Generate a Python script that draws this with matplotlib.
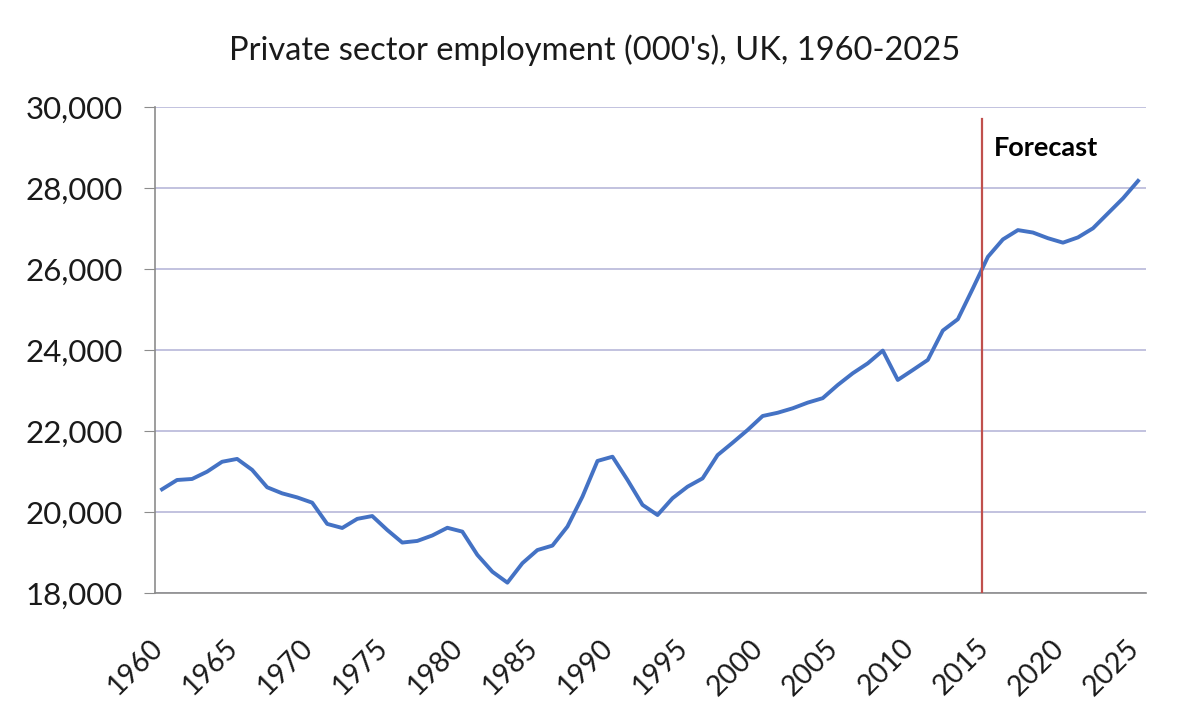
import matplotlib
matplotlib.use("Agg")
import matplotlib.pyplot as plt
from matplotlib.ticker import FuncFormatter
from matplotlib.transforms import ScaledTranslation

years = list(range(1960, 2026))
employment = [
    20560, 20790, 20815, 20995, 21240, 21310, 21040, 20610, 20460, 20360,
    20230, 19705, 19605, 19830, 19900, 19555, 19245, 19285, 19420, 19610,
    19515, 18940, 18525, 18255, 18735, 19060, 19170, 19640, 20380, 21260,
    21365, 20790, 20175, 19925, 20340, 20625, 20830, 21405, 21710, 22025,
    22370, 22450, 22560, 22700, 22810, 23135, 23425, 23670, 23985, 23260,
    23505, 23755, 24480, 24760, 25520, 26300, 26730, 26960, 26900, 26760,
    26650, 26780, 27005, 27375, 27745, 28175,
]
tick_years = list(range(1960, 2026, 5))
forecast_start = 2014.6
title = "Private sector employment (000's), UK, 1960-2025"

plt.rcParams['font.family'] = ['Lato', 'DejaVu Sans']

fig = plt.figure(figsize=(11.85, 7.02), dpi=100)
ax = fig.add_axes([0.1304, 0.1553, 0.8363, 0.6923])

ax.plot(years, employment, color='#4472C4', lw=2.8, solid_joinstyle='round', zorder=3)
ax.plot([forecast_start, forecast_start], [29700, 18000], color='#C0504D', lw=1.6, zorder=4)
ax.text(2015.4, 28990, "Forecast", fontsize=19.5, fontweight='bold', va='center', ha='left')

ax.set_xlim(1959.5, 2025.5)
ax.set_ylim(18000, 30000)
ax.set_yticks(range(18000, 30001, 2000))
ax.yaxis.set_major_formatter(FuncFormatter(lambda v, p: f"{int(v):,}"))
ax.set_xticks(tick_years)
ax.set_xticklabels([str(y) for y in tick_years])

ax.grid(axis='y', color='#BDBDDC', lw=1.3, zorder=0)
for s in ['top', 'right']:
    ax.spines[s].set_visible(False)
for s in ['left', 'bottom']:
    ax.spines[s].set_color('#8C8C8C')
    ax.spines[s].set_linewidth(1.2)

ax.tick_params(axis='y', length=8, color='#8C8C8C', pad=15, labelsize=22.5, labelcolor='#1a1a1a')
ax.tick_params(axis='x', length=0, pad=30, labelsize=20.5, labelcolor='#1a1a1a')
offset = ScaledTranslation(-9 / 72, 0, fig.dpi_scale_trans)
for lab in ax.get_xticklabels():
    lab.set_rotation(45)
    lab.set_ha('right')
    lab.set_va('top')
    lab.set_rotation_mode('anchor')
    lab.set_transform(lab.get_transform() + offset)

fig.text(0.502, 0.929, title, ha='center', va='center', fontsize=23.5, color='#1a1a1a')

fig.savefig("out.png", dpi=100)
